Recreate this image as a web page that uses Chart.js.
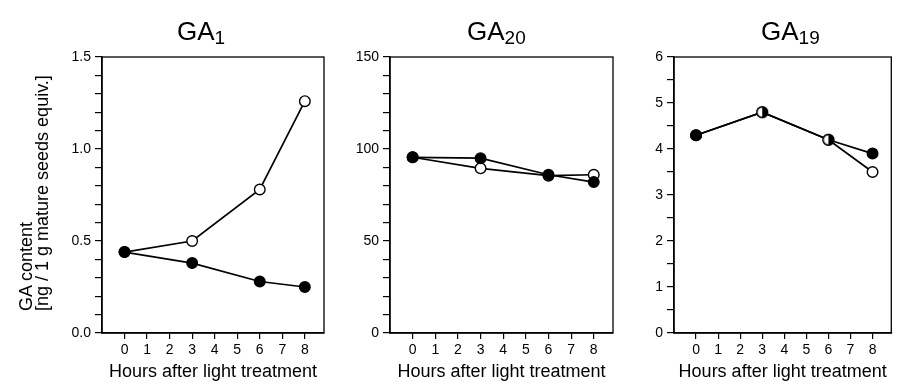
<!DOCTYPE html>
<html>
<head>
<meta charset="utf-8">
<script src="https://cdn.jsdelivr.net/npm/chart.js@4.4.1/dist/chart.umd.min.js"></script>
<style>
  html, body { margin: 0; padding: 0; background: #fff; }
  #wrap { position: relative; width: 898px; height: 387px; overflow: hidden;
          font-family: "Liberation Sans", Arial, sans-serif; color: #000; }
  #wrap canvas { position: absolute; top: 0; }
  .ttl { position: absolute; top: 18px; font-size: 26px; line-height: 26px; white-space: nowrap; }
  .ttl sub { font-size: 19px; line-height: 0; vertical-align: -4px; }
  #ylab { position: absolute; left: 18px; top: 311px; transform: rotate(-90deg); transform-origin: 0 0;
          font-size: 18px; line-height: 16px; white-space: nowrap; }
</style>
</head>
<body>
<div id="wrap">
  <canvas id="c1" width="335" height="387" style="left:0"></canvas>
  <canvas id="c2" width="285" height="387" style="left:335px"></canvas>
  <canvas id="c3" width="278" height="387" style="left:620px"></canvas>
  <div class="ttl" style="left:177px">GA<sub>1</sub></div>
  <div class="ttl" style="left:467px">GA<sub>20</sub></div>
  <div class="ttl" style="left:761px">GA<sub>19</sub></div>
  <div id="ylab">GA content<br>[ng / 1 g mature seeds equiv.]</div>
</div>
<script>
  Chart.defaults.font.family = "'Liberation Sans', Arial, sans-serif";

  // hours sampled, same for every panel
  const hours = [0, 3, 6, 8];
  const hourTicks = [0, 1, 2, 3, 4, 5, 6, 7, 8];
  const xTitle = "Hours after light treatment";

  // filled circles (dark) and open circles (light)
  const ga1Dark = [0.44, 0.38, 0.28, 0.25];
  const ga1Light = [0.44, 0.50, 0.78, 1.26];
  const ga20Dark = [95.5, 95, 86, 82];
  const ga20Light = [95.5, 89.5, 85.5, 86];
  const ga19Dark = [4.3, 4.8, 4.2, 3.9];
  const ga19Light = [4.3, 4.8, 4.2, 3.5];

  // half-filled marker where both treatments coincide
  function halfDot() {
    const c = document.createElement("canvas");
    c.width = 14; c.height = 14;
    const g = c.getContext("2d");
    g.beginPath(); g.arc(7, 7, 5.3, 0, Math.PI * 2); g.fillStyle = "#fff"; g.fill();
    g.beginPath(); g.arc(7, 7, 5.3, -Math.PI / 2, Math.PI / 2); g.closePath(); g.fillStyle = "#000"; g.fill();
    g.beginPath(); g.arc(7, 7, 5.3, 0, Math.PI * 2); g.lineWidth = 1.4; g.strokeStyle = "#000"; g.stroke();
    return c;
  }

  const boxPlugin = {
    id: "box",
    afterDraw: function(chart) {
      const a = chart.chartArea, ctx = chart.ctx;
      ctx.save();
      ctx.strokeStyle = "#000";
      ctx.lineWidth = 1.3;
      ctx.strokeRect(a.left, a.top, a.right - a.left, a.bottom - a.top);
      ctx.restore();
    }
  };

  function pts(vals) {
    return vals.map(function(v, i) { return { x: hours[i], y: v }; });
  }

  function panel(id, dark, light, yMax, yStep, yLabelStep, yDec, axisW, padRight, darkStyles) {
    new Chart(document.getElementById(id), {
      type: "line",
      data: {
        datasets: [
          {
            data: pts(dark),
            borderColor: "#000", borderWidth: 1.7,
            pointBackgroundColor: "#000", pointBorderColor: "#000",
            pointRadius: 5.3, pointBorderWidth: 1.4,
            pointStyle: darkStyles || "circle"
          },
          {
            data: pts(light),
            borderColor: "#000", borderWidth: 1.7,
            pointBackgroundColor: "#fff", pointBorderColor: "#000",
            pointRadius: 5.3, pointBorderWidth: 1.4
          }
        ]
      },
      plugins: [boxPlugin],
      options: {
        responsive: false, animation: false,
        layout: { padding: { top: 57, right: padRight, bottom: 0, left: 0 } },
        plugins: { legend: { display: false }, tooltip: { enabled: false } },
        scales: {
          x: {
            type: "linear", min: -1, max: 8.85,
            afterBuildTicks: function(s) { s.ticks = hourTicks.map(function(v) { return { value: v }; }); },
            afterFit: function(s) { s.height = 54; },
            grid: { drawOnChartArea: false, tickLength: 6, color: "#000", lineWidth: 1.2 },
            border: { color: "#000", width: 1.5 },
            ticks: { color: "#000", font: { size: 14 }, padding: 3, maxRotation: 0, autoSkip: false },
            title: { display: true, text: xTitle, color: "#000", font: { size: 18 }, padding: { top: 0, bottom: 4 } }
          },
          y: {
            min: 0, max: yMax,
            afterFit: function(s) { s.width = axisW; },
            grid: { drawOnChartArea: false, tickLength: 7, color: "#000", lineWidth: 1.2 },
            border: { color: "#000", width: 1.5 },
            ticks: {
              stepSize: yStep, color: "#000", font: { size: 14 }, padding: 4, autoSkip: false,
              callback: function(v) {
                const r = v / yLabelStep;
                return Math.abs(r - Math.round(r)) < 1e-6 ? Number(v).toFixed(yDec) : "";
              }
            }
          }
        }
      }
    });
  }

  const hd = halfDot();
  panel("c1", ga1Dark, ga1Light, 1.5, 0.1, 0.5, 1, 102, 11);
  panel("c2", ga20Dark, ga20Light, 150, 10, 50, 0, 55, 7);
  panel("c3", ga19Dark, ga19Light, 6, 0.5, 1, 0, 54, 1, ["circle", hd, hd, "circle"]);
</script>
</body>
</html>
